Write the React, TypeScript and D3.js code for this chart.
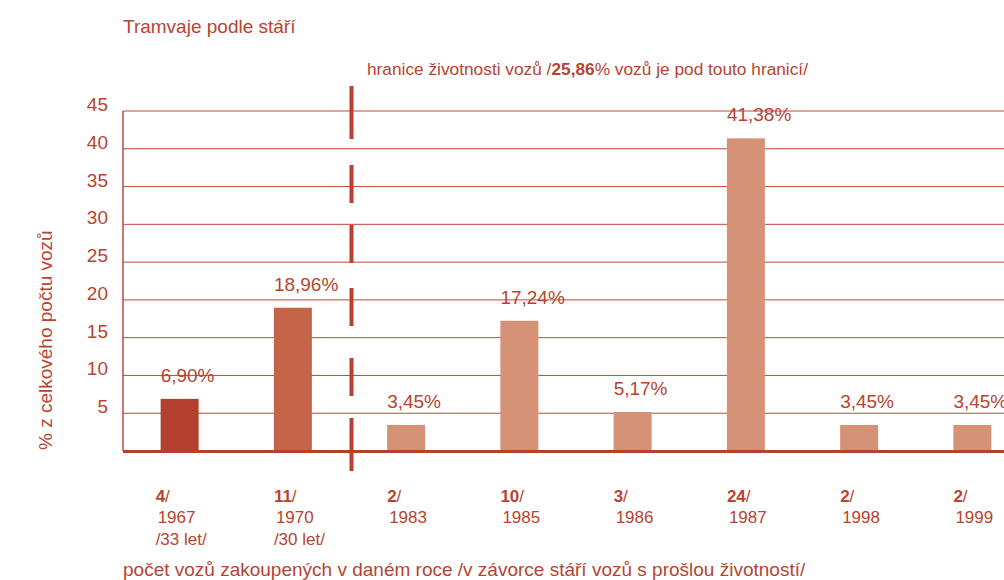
import React, { useEffect, useRef } from 'react';
import * as d3 from 'd3';

// data
const years = ['1967', '1970', '1983', '1985', '1986', '1987', '1998', '1999'];
const counts = [4, 11, 2, 10, 3, 24, 2, 2];
const shares = [6.9, 18.96, 3.45, 17.24, 5.17, 41.38, 3.45, 3.45];
const ages = ['/33 let/', '/30 let/', '', '', '', '', '', ''];
const yTicks = [5, 10, 15, 20, 25, 30, 35, 40, 45];
const barColors = ['#b33f2f', '#c4654a', '#d69277', '#d69277', '#d69277', '#d69277', '#d69277', '#d69277'];

const TXT = '#b8432f';
const FONT = '"Liberation Sans", Arial, sans-serif';

function App() {
  const chartRef = useRef<SVGSVGElement>(null);

  useEffect(() => {
    const width = 1004;
    const height = 580;
    const margin = { top: 111, left: 123 };
    const baseY = 451;

    const svg = d3.select(chartRef.current);
    svg.selectAll('*').remove();
    svg.attr('width', width).attr('height', height)
      .style('font-family', FONT);

    const x = d3.scaleBand()
      .domain(years)
      .range([margin.left, margin.left + 906])
      .paddingInner(0.6645)
      .paddingOuter(0.6645 / 2);

    const y = d3.scaleLinear()
      .domain([0, 45])
      .range([baseY, margin.top]);

    // title
    svg.append('text')
      .attr('x', margin.left).attr('y', 33)
      .attr('fill', TXT).attr('font-size', 19)
      .text('Tramvaje podle stáří');

    // gridlines
    svg.append('g').selectAll('line')
      .data(yTicks)
      .enter().append('line')
        .attr('x1', margin.left).attr('x2', width)
        .attr('y1', d => y(d)).attr('y2', d => y(d))
        .attr('stroke', '#c0483a').attr('stroke-width', 1);

    // y tick labels
    svg.append('g').selectAll('text')
      .data(yTicks)
      .enter().append('text')
        .attr('x', 108).attr('y', d => y(d))
        .attr('text-anchor', 'end')
        .attr('fill', TXT).attr('font-size', 19)
        .text(d => d);

    // left axis line
    svg.append('line')
      .attr('x1', margin.left).attr('x2', margin.left)
      .attr('y1', y(45)).attr('y2', y(0))
      .attr('stroke', '#c0483a').attr('stroke-width', 1.5);

    // y title
    svg.append('text')
      .attr('transform', `translate(52,${baseY - 1}) rotate(-90)`)
      .attr('fill', TXT).attr('font-size', 19)
      .text('% z celkového počtu vozů');

    // bars
    svg.append('g').selectAll('rect')
      .data(shares)
      .enter().append('rect')
        .attr('x', (d, i) => x(years[i]) as number)
        .attr('width', x.bandwidth())
        .attr('y', d => y(d))
        .attr('height', d => baseY - y(d))
        .attr('fill', (d, i) => barColors[i]);

    // value labels
    const fmt = d3.format('.2f');
    svg.append('g').selectAll('text')
      .data(shares)
      .enter().append('text')
        .attr('x', (d, i) => x(years[i]) as number)
        .attr('y', d => y(d) - 17)
        .attr('fill', TXT).attr('font-size', 19)
        .text(d => fmt(d).replace('.', ',') + '%');

    // baseline
    svg.append('line')
      .attr('x1', margin.left).attr('x2', width)
      .attr('y1', baseY + 0.5).attr('y2', baseY + 0.5)
      .attr('stroke', '#b8402f').attr('stroke-width', 3);

    // lifetime boundary (dashed)
    const bx = ((x('1970') as number) + x.bandwidth() + (x('1983') as number)) / 2 + 2;
    svg.append('line')
      .attr('x1', bx).attr('x2', bx)
      .attr('y1', y(45) - 25).attr('y2', y(0) + 20)
      .attr('stroke', '#b8402f').attr('stroke-width', 4)
      .attr('stroke-dasharray', '53 26 38 22 38 25 38 32 38 22 53');

    const note = svg.append('text')
      .attr('x', 367).attr('y', 75)
      .attr('fill', TXT).attr('font-size', 17.3);
    note.append('tspan').text('hranice životnosti vozů /');
    note.append('tspan').attr('font-weight', 'bold').text('25,86');
    note.append('tspan').text('% vozů je pod touto hranicí/');

    // x labels
    const xl = svg.append('g').selectAll('g')
      .data(years)
      .enter().append('g')
        .attr('transform', d => `translate(${x(d)},0)`);
    xl.append('text')
      .attr('x', (d, i) => (i === 0 ? -5 : 0)).attr('y', 502)
      .attr('fill', TXT).attr('font-size', 17).attr('font-weight', 'bold')
      .text((d, i) => counts[i])
      .append('tspan').attr('font-weight', 'normal').text('/');
    xl.append('text')
      .attr('x', (d, i) => (i === 0 ? -3 : 2)).attr('y', 523)
      .attr('fill', TXT).attr('font-size', 17)
      .text(d => d);
    xl.append('text')
      .attr('x', (d, i) => (i === 0 ? -5 : 0)).attr('y', 545)
      .attr('fill', TXT).attr('font-size', 17)
      .text((d, i) => ages[i]);

    // caption
    svg.append('text')
      .attr('x', margin.left).attr('y', 576)
      .attr('fill', TXT).attr('font-size', 19)
      .text('počet vozů zakoupených v daném roce /v závorce stáří vozů s prošlou životností/');
  }, []);

  return (
    <div style={{ position: 'absolute', left: 0, top: 0 }}>
      <svg ref={chartRef} width={1004} height={580} style={{ display: 'block' }} />
    </div>
  );
}

export default App;
